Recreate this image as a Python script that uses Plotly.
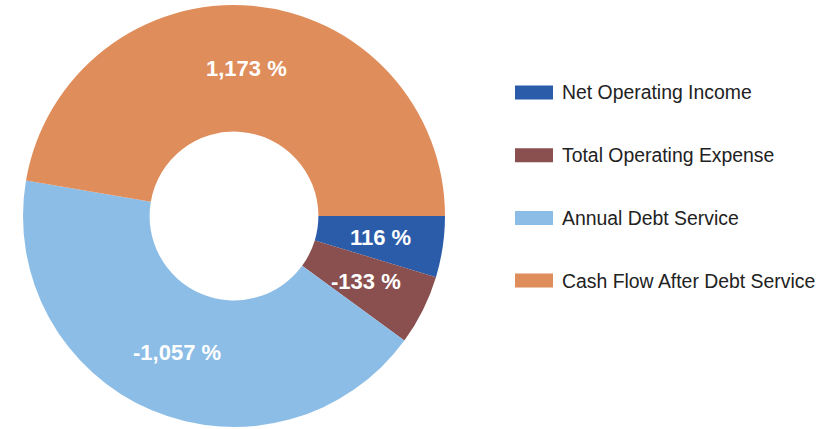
import math
import plotly.graph_objects as go

categories = ["Net Operating Income", "Total Operating Expense",
              "Annual Debt Service", "Cash Flow After Debt Service"]
percent_values = [116, -133, -1057, 1173]
colors = ["#2a5caa", "#8a4f4f", "#8cbde6", "#e08d5c"]

W, H = 833, 429
CX, CY, R, HOLE = 234, 216, 211, 0.4
FONT = "Liberation Sans, Arial, sans-serif"

sizes = [abs(v) for v in percent_values]
labels_text = [f"{v:,} %" for v in percent_values]

fig = go.Figure()
fig.add_trace(go.Pie(
    labels=categories,
    values=sizes,
    textinfo="none",
    hole=HOLE,
    sort=False,
    direction="clockwise",
    rotation=90,
    marker=dict(colors=colors, line=dict(width=0)),
    showlegend=False,
    domain=dict(x=[(CX - R) / W, (CX + R) / W], y=[1 - (CY + R) / H, 1 - (CY - R) / H]),
))

annotations = []
# slice labels at mid-angle, mid-radius (angles clockwise from 3 o'clock)
total = sum(sizes)
cum = 0.0
rmid = R * (1 + HOLE) / 2
for s, t in zip(sizes, labels_text):
    a = 2 * math.pi * (cum + s / 2) / total
    cum += s
    px = CX + rmid * math.cos(a)
    py = CY + rmid * math.sin(a)
    annotations.append(dict(text=t, xref="paper", yref="paper",
                            x=px / W, y=1 - py / H, xanchor="center", yanchor="middle",
                            showarrow=False,
                            font=dict(family=FONT, size=22, color="white", weight="bold")))

# custom legend (wide swatches)
shapes = []
y0, dy = 92.5, 62.7
for i, (name, c) in enumerate(zip(categories, colors)):
    yc = y0 + i * dy
    shapes.append(dict(type="rect", xref="paper", yref="paper",
                       x0=515 / W, x1=553 / W,
                       y0=1 - (yc - 7) / H, y1=1 - (yc + 7) / H,
                       fillcolor=c, line=dict(width=0)))
    annotations.append(dict(text=name, xref="paper", yref="paper",
                            x=560 / W, y=1 - yc / H, xanchor="left", yanchor="middle",
                            showarrow=False,
                            font=dict(family=FONT, size=19.4, color="#222222")))

fig.update_layout(
    width=W, height=H,
    margin=dict(l=0, r=0, t=0, b=0),
    paper_bgcolor="white",
    plot_bgcolor="white",
    shapes=shapes,
    annotations=annotations,
)

fig.write_html("out.html",
               config={"displayModeBar": False},
               post_script="document.body.style.margin='0';document.body.style.overflow='hidden';")
